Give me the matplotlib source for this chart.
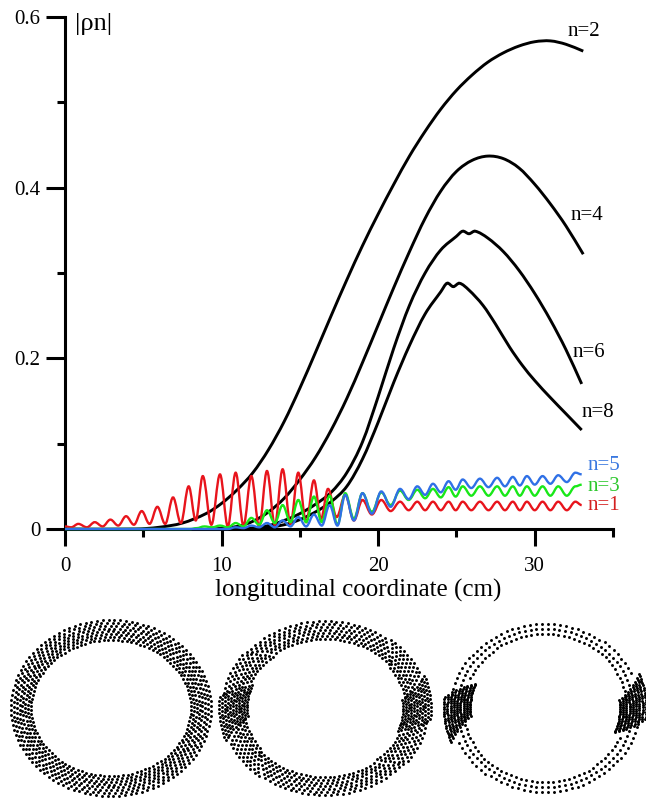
import numpy as np
import matplotlib
matplotlib.use('Agg')
import matplotlib.pyplot as plt
from matplotlib.path import Path
from matplotlib.patches import PathPatch

plt.rcParams['font.family'] = ['Liberation Serif', 'DejaVu Serif']

# black curves |rho_n| for n = 2, 4, 6, 8  (x in cm)
n2_x = [0, 4.5, 6, 7.5, 9, 10, 11, 12, 13, 14, 15, 16, 17, 18, 19, 20, 21, 22, 23, 24, 25,
        26, 27, 28, 29, 30, 31, 32, 33.1]
n2_y = [0, 0, 0.002, 0.007, 0.018, 0.03, 0.046, 0.066, 0.093, 0.126, 0.165, 0.207, 0.25,
        0.292, 0.332, 0.369, 0.404, 0.437, 0.466, 0.492, 0.514, 0.532, 0.547, 0.558, 0.566,
        0.571, 0.572, 0.568, 0.56]

n4_x = [9.5, 11, 12, 13, 14, 15, 16, 17, 18, 19, 20, 21, 22, 23, 24, 25, 26, 27, 28, 29, 30,
        31, 32, 33.1]
n4_y = [0, 0.003, 0.009, 0.02, 0.036, 0.058, 0.084, 0.116, 0.153, 0.195, 0.239, 0.283, 0.325,
        0.364, 0.396, 0.419, 0.432, 0.437, 0.434, 0.423, 0.404, 0.381, 0.355, 0.322]

n6_x = [11.5, 13, 14, 15, 16, 17, 18, 19, 20, 21, 22, 23, 24, 25, 25.4, 25.8, 26.2, 27, 28,
        29, 30, 31, 32, 33]
n6_y = [0, 0.004, 0.01, 0.018, 0.029, 0.043, 0.066, 0.102, 0.155, 0.212, 0.262, 0.3, 0.327,
        0.343, 0.349, 0.346, 0.349, 0.341, 0.325, 0.303, 0.276, 0.245, 0.21, 0.17]

n8_x = [12.5, 14, 15, 16, 17, 18, 19, 20, 21, 22, 23, 24, 24.4, 24.8, 25.2, 25.8, 26.7, 27.5,
        28.4, 29.2, 30, 31, 32, 33]
n8_y = [0, 0.005, 0.011, 0.02, 0.032, 0.05, 0.082, 0.125, 0.172, 0.215, 0.252, 0.278, 0.288,
        0.284, 0.288, 0.28, 0.262, 0.24, 0.213, 0.192, 0.174, 0.154, 0.135, 0.116]

# oscillating curves n = 1, 3, 5 (peaks and troughs)
n1_pts = [(0, 0.003), (0.4, 0.002), (0.85, 0.006), (1.4, 0.002), (1.9, 0.008), (2.4, 0.003),
          (2.9, 0.011), (3.4, 0.004), (3.9, 0.015), (4.4, 0.005), (4.9, 0.021), (5.4, 0.006),
          (5.9, 0.026), (6.4, 0.006), (6.9, 0.037), (7.4, 0.007), (7.9, 0.05), (8.35, 0.01),
          (8.8, 0.062), (9.35, 0.005), (9.9, 0.064), (10.4, 0.003), (10.9, 0.066), (11.4, 0.004),
          (11.9, 0.062), (12.4, 0.003), (12.9, 0.068), (13.4, 0.005), (13.9, 0.07), (14.4, 0.006),
          (14.9, 0.066), (15.4, 0.008), (15.9, 0.057), (16.35, 0.012), (16.8, 0.047),
          (17.35, 0.014), (17.9, 0.04), (18.45, 0.01), (19.0, 0.034), (19.6, 0.017),
          (20.2, 0.034), (20.8, 0.021), (21.4, 0.032), (21.95, 0.022), (22.5, 0.032),
          (23.0, 0.022), (23.5, 0.032), (24.0, 0.022), (24.5, 0.032), (24.95, 0.022),
          (25.4, 0.032), (25.95, 0.022), (26.5, 0.032), (27.05, 0.022), (27.6, 0.032),
          (28.1, 0.022), (28.6, 0.032), (29.05, 0.022), (29.5, 0.032), (30.0, 0.022),
          (30.5, 0.032), (31.0, 0.022), (31.5, 0.032), (32.05, 0.022), (32.6, 0.032), (33.0, 0.028)]

n3_pts = [(0, 0), (8.0, 0), (8.4, 0.001), (8.9, 0.003), (9.4, 0.002), (9.9, 0.004), (10.4, 0.002),
          (10.9, 0.007), (11.4, 0.003), (11.9, 0.013), (12.4, 0.005), (12.9, 0.022), (13.4, 0.007),
          (13.9, 0.028), (14.4, 0.008), (14.9, 0.034), (15.4, 0.008), (15.9, 0.038), (16.4, 0.008),
          (16.9, 0.039), (17.4, 0.005), (17.9, 0.042), (18.45, 0.012), (19.0, 0.042),
          (19.6, 0.02), (20.2, 0.043), (20.8, 0.028), (21.4, 0.045), (21.95, 0.034),
          (22.5, 0.046), (23.0, 0.036), (23.5, 0.047), (24.0, 0.037), (24.5, 0.049),
          (24.95, 0.038), (25.4, 0.05), (25.95, 0.039), (26.5, 0.05), (27.05, 0.039),
          (27.6, 0.05), (28.1, 0.039), (28.6, 0.05), (29.05, 0.039), (29.5, 0.05), (30.0, 0.039),
          (30.5, 0.05), (31.0, 0.039), (31.5, 0.05), (32.05, 0.039), (32.6, 0.05), (33.0, 0.052)]

n5_pts = [(0, 0), (10.4, 0), (10.9, 0.002), (11.4, 0.001), (11.9, 0.004), (12.4, 0.002),
          (12.9, 0.007), (13.4, 0.002), (13.9, 0.01), (14.4, 0.003), (14.9, 0.014), (15.4, 0.003),
          (15.9, 0.017), (16.4, 0.004), (16.9, 0.028), (17.4, 0.004), (17.9, 0.04), (18.45, 0.01),
          (19.0, 0.042), (19.6, 0.018), (20.2, 0.044), (20.8, 0.026), (21.4, 0.047),
          (21.95, 0.035), (22.5, 0.05), (23.0, 0.04), (23.5, 0.053), (24.0, 0.043), (24.5, 0.056),
          (24.95, 0.046), (25.4, 0.058), (25.95, 0.048), (26.5, 0.059), (27.05, 0.049),
          (27.6, 0.06), (28.1, 0.05), (28.6, 0.061), (29.05, 0.051), (29.5, 0.062), (30.0, 0.052),
          (30.5, 0.062), (31.0, 0.053), (31.5, 0.063), (32.05, 0.055), (32.6, 0.066), (33.0, 0.064)]

# curve labels: text, x, y, colour
labels = [('n=2', 32.1, 0.583, 'black'), ('n=4', 32.3, 0.367, 'black'),
          ('n=6', 32.4, 0.207, 'black'), ('n=8', 33.0, 0.136, 'black'),
          ('n=5', 33.4, 0.075, '#3a78e0'), ('n=3', 33.4, 0.050, '#2ec82e'),
          ('n=1', 33.4, 0.027, '#d42020')]

x_major = [0, 10, 20, 30]
x_minor = [5, 15, 25, 35]
y_major = [0, 0.2, 0.4, 0.6]
y_minor = [0.1, 0.3, 0.5]
y_ticklabels = ['0', '0.2', '0.4', '0.6']

# beam cross sections: per 30 degree sector (sector 0 = right side)
ring_rx = [90, 92, 88]
ring_ry = [78, 78, 79]
ring_dashes = [[9] * 12,
               [12, 9, 9, 9, 9, 9, 12, 9, 9, 9, 9, 9],
               [20, 8, 8, 8, 8, 8, 20, 8, 8, 8, 8, 8]]
ring_dots = [[8] * 12,
             [11, 8, 7, 7, 7, 8, 11, 8, 7, 7, 7, 8],
             [9, 3, 3, 3, 3, 3, 9, 3, 3, 3, 3, 3]]
ring_halfw = [[10] * 12,
              [14, 11, 9, 9, 9, 11, 14, 11, 9, 9, 9, 11],
              [13, 6, 5, 5, 5, 6, 13, 6, 5, 5, 5, 6]]
ring_tilt = [0.14, 0.12, 0.13]
ring_cx = [111, 325, 545]


def wave_path(pts):
    # cubic segments with flat tangents at each peak / trough
    verts = [pts[0]]
    codes = [Path.MOVETO]
    for (x0, y0), (x1, y1) in zip(pts[:-1], pts[1:]):
        dx = x1 - x0
        verts += [(x0 + 0.36 * dx, y0), (x1 - 0.36 * dx, y1), (x1, y1)]
        codes += [Path.CURVE4] * 3
    return Path(verts, codes)


def smooth_path(xs, ys):
    # Catmull-Rom style cubic through the read points
    n = len(xs)
    m = []
    for i in range(n):
        a, b = max(i - 1, 0), min(i + 1, n - 1)
        m.append((ys[b] - ys[a]) / (xs[b] - xs[a]))
    verts = [(xs[0], ys[0])]
    codes = [Path.MOVETO]
    for i in range(n - 1):
        h = (xs[i + 1] - xs[i]) / 3
        verts += [(xs[i] + h, ys[i] + h * m[i]), (xs[i + 1] - h, ys[i + 1] - h * m[i + 1]),
                  (xs[i + 1], ys[i + 1])]
        codes += [Path.CURVE4] * 3
    return Path(verts, codes)


W, H = 646, 799
fig = plt.figure(figsize=(W / 100, H / 100), dpi=100)
ax = fig.add_axes([65 / W, 270 / H, 548 / W, 512 / H])

for cx, cy in [(n2_x, n2_y), (n4_x, n4_y), (n6_x, n6_y), (n8_x, n8_y)]:
    ax.add_patch(PathPatch(smooth_path(cx, cy), facecolor='none', edgecolor='black',
                           linewidth=2.1, zorder=3, clip_on=False))

for pts, col in [(n1_pts, '#e8141c'), (n3_pts, '#18e818'), (n5_pts, '#2f70e6')]:
    ax.add_patch(PathPatch(wave_path(pts), facecolor='none', edgecolor=col,
                           linewidth=1.7, zorder=4, clip_on=False))

for txt, lx, ly, col in labels:
    ax.text(lx, ly, txt, color=col, fontsize=15, ha='left', va='center')

ax.text(0.018, 1.008, '|ρn|', transform=ax.transAxes, fontsize=19, ha='left', va='top')

ax.set_xlim(0, 35)
ax.set_ylim(0, 0.6)
ax.set_xticks(x_major)
ax.set_xticks(x_minor, minor=True)
ax.set_yticks(y_major)
ax.set_yticks(y_minor, minor=True)
ax.set_yticklabels(y_ticklabels)
for s in ['top', 'right']:
    ax.spines[s].set_visible(False)
for s in ['left', 'bottom']:
    ax.spines[s].set_linewidth(2.2)
ax.tick_params(which='both', direction='out', width=2.2, labelsize=15)
ax.tick_params(axis='x', which='major', length=12.5, pad=8)
ax.tick_params(axis='y', which='major', length=13.5, pad=4)
ax.tick_params(which='minor', length=6)
ax.set_xlabel('longitudinal coordinate (cm)', fontsize=18)
ax.xaxis.set_label_coords(0.535, -0.098)
ax.xaxis.label.set_va('top')

# rings of particles
for k in range(3):
    rax = fig.add_axes([(ring_cx[k] - 108) / W, 1 / H, 216 / W, 180 / H])
    rax.set_xlim(-108, 108)
    rax.set_ylim(-90, 90)
    rax.axis('off')
    xs, ys = [], []
    for s in range(12):
        nd = ring_dashes[k][s]
        th = np.radians(30 * s - 15 + 30 * (np.arange(nd) + 0.5) / nd)
        t = np.linspace(-1, 1, ring_dots[k][s])
        for a in th:
            xs.extend((ring_rx[k] + t * ring_halfw[k][s]) * np.cos(a + ring_tilt[k] * t))
            ys.extend((ring_ry[k] + t * ring_halfw[k][s]) * np.sin(a + ring_tilt[k] * t))
    rax.scatter(xs, ys, s=4.5, color='black', linewidths=0)

fig.savefig('out.png', dpi=100)
